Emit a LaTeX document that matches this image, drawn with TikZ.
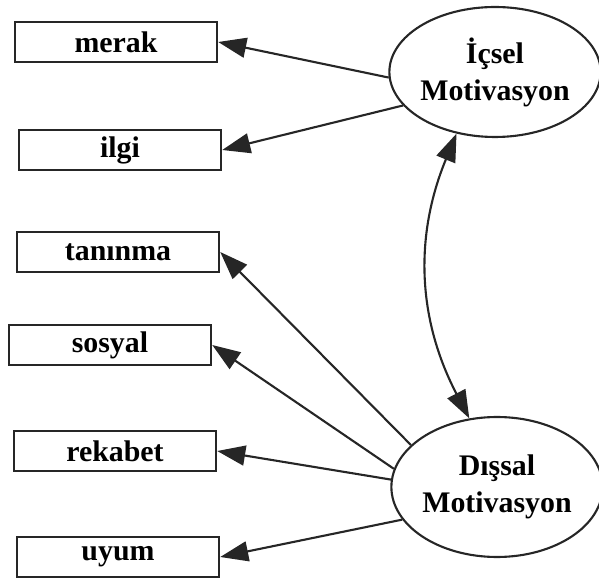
\documentclass[tikz,border=0pt]{standalone}
\usepackage{fontspec}
\setmainfont{Liberation Serif}
\usetikzlibrary{shapes.geometric,arrows.meta}
\begin{document}
\begin{tikzpicture}[line width=1.2pt, draw=black!85,
	item/.style={rectangle, draw, line width=1.4pt, minimum width=4.04cm, minimum height=0.8cm, inner sep=0pt, font=\fontsize{17}{19}\selectfont\bfseries},
	factor/.style={ellipse, draw, line width=1.2pt, inner sep=0pt, align=center, font=\fontsize{17}{21}\selectfont\bfseries},
	path/.style={-{Triangle[length=0.56cm, width=0.4cm]}}]
	\useasboundingbox (0,0) rectangle (11.98,11.66);
	\node (merak)   at (2.32, 10.82)	[item]	{merak};
	\node (ilgi)    at (2.40,  8.66)	[item]	{ilgi};
	\node (taninma) at (2.36,  6.62)	[item]	{tanınma};
	\node (sosyal)  at (2.20,  4.76)	[item]	{sosyal};
	\node (rekabet) at (2.30,  2.64)	[item]	{rekabet};
	\node (uyum)    at (2.36,  0.52)	[item]	{uyum};
	\node (icsel)   at (9.90, 10.22)	[factor, minimum width=4.12cm, minimum height=2.6cm]	{İçsel\\Motivasyon};
	\node (dissal)  at (9.94,  1.92)	[factor, minimum width=4.08cm, minimum height=2.8cm]	{Dışsal\\Motivasyon};
	\draw[path] (icsel.183) -- (merak.east);
	\draw[path] (icsel.200) -- (ilgi.east);
	\draw[path] (dissal.154) -- (taninma.east);
	\draw[path] (dissal.170) -- (sosyal.east);
	\draw[path] (dissal.176) -- (rekabet.east);
	\draw[path] (dissal.199) -- (uyum.east);
	\draw[{Triangle[length=0.56cm, width=0.4cm]}-{Triangle[length=0.56cm, width=0.4cm]}] (icsel.238) to[bend right=25] (dissal.112);
\end{tikzpicture}
\end{document}
